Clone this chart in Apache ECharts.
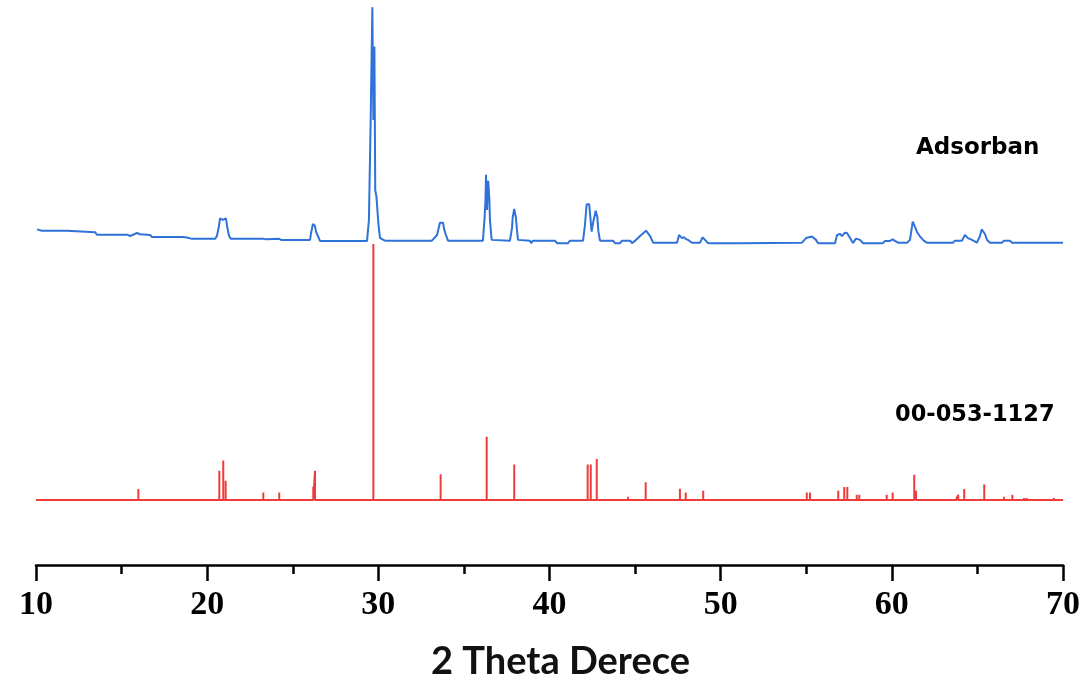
<!DOCTYPE html>
<html>
<head>
<meta charset="utf-8">
<script src="https://cdn.jsdelivr.net/npm/echarts@6/dist/echarts.min.js"></script>
<style>
html,body{margin:0;padding:0;background:#fff;}
#chart{width:1090px;height:684px;}
</style>
</head>
<body>
<div id="chart"></div>
<script>
// X axis tick labels (2θ, degrees)
var xTicks = [10, 20, 30, 40, 50, 60, 70];

// Measured pattern "Adsorban": [2θ, intensity (a.u.)]
var adsorbanTheta = [
  10.06, 10.35, 11.81, 11.87, 13.45, 13.56, 13.91, 13.97, 14.03, 15.37, 15.49, 15.78, 15.90, 16.08, 16.66, 16.78,
  18.30, 18.41, 18.59, 18.70, 18.82, 19.11, 20.46, 20.57, 20.69, 20.75, 20.92, 21.10, 21.16, 21.28, 21.39,
  23.26, 23.32, 23.44, 24.20, 24.26, 24.32, 26.01, 26.07, 26.18, 26.24, 26.30, 26.36, 26.47, 26.59,
  27.30, 27.36, 27.42, 28.47, 28.53, 28.59, 29.34, 29.40, 29.45, 29.55, 29.65, 29.71, 29.77, 29.82, 29.89, 29.96, 30.01, 30.10, 30.39,
  33.13, 33.43, 33.60, 33.78, 33.84, 33.95, 34.07,
  36.11, 36.20, 36.26, 36.29, 36.35, 36.42, 36.49, 36.52, 36.62,
  37.69, 37.81, 37.85, 37.94, 38.04, 38.10, 38.16,
  38.86, 38.92, 39.04, 40.32, 40.44, 41.08, 41.20, 41.96,
  42.07, 42.17, 42.32, 42.46, 42.56, 42.70, 42.79, 42.86, 42.95,
  43.71, 43.83, 44.12, 44.24, 44.71, 44.82, 45.00, 45.29, 45.64, 45.88, 46.05,
  47.45, 47.57, 47.74, 47.86, 47.97, 48.09, 48.32, 48.79, 48.95, 49.14, 49.26,
  51.13, 54.75, 54.99, 55.10, 55.33, 55.57, 55.69, 56.68,
  56.80, 56.98, 57.09, 57.26, 57.38, 57.56, 57.73, 57.91, 58.02, 58.14, 58.32,
  59.48, 59.60, 59.89, 60.05, 60.18, 60.36, 60.89,
  61.06, 61.15, 61.22, 61.35, 61.47, 61.65, 61.88, 62.05,
  63.57, 63.69, 64.10, 64.27, 64.45, 64.68, 64.97,
  65.15, 65.25, 65.35, 65.44, 65.56, 65.73, 66.43, 66.55, 66.90, 67.02, 70.00
];
var adsorbanIntensity = [
  5.7, 5.2, 5.2, 4.6, 4.6, 3.6, 3.6, 4.3, 3.6, 3.6, 3.1, 3.9, 4.3, 3.8, 3.5, 2.7,
  2.7, 2.1, 2.7, 2.1, 2.5, 2.0, 2.0, 3.1, 7.0, 10.0, 9.4, 10.0, 7.0, 3.1, 2.0,
  2.0, 2.4, 1.8, 2.0, 2.4, 1.6, 1.6, 4.3, 7.8, 8.3, 7.0, 4.7, 3.1, 1.2,
  1.2, 0.6, 1.2, 1.2, 1.6, 1.2, 1.2, 1.9, 9.4, 47.5, 92.5, 48.4, 77.1, 21.1, 18.4, 18.4, 7.4, 2.3, 1.3,
  1.3, 3.5, 8.3, 8.3, 5.9, 3.5, 1.3,
  1.3, 9.4, 17.2, 27.0, 13.3, 24.7, 17.2, 9.4, 1.6,
  1.3, 6.3, 10.4, 13.7, 10.2, 5.5, 1.6,
  1.3, 0.3, 1.3, 1.3, 0.3, 0.3, 1.3, 1.3,
  7.4, 15.5, 15.5, 4.8, 8.7, 13.0, 10.7, 4.7, 1.3,
  1.3, 0.3, 0.3, 1.3, 1.3, 0.3, 1.3, 3.1, 5.2, 3.1, 0.5,
  0.5, 3.5, 2.3, 2.7, 1.9, 1.6, 0.5, 0.5, 2.6, 1.2, 0.3,
  0.3, 0.5, 2.3, 2.9, 2.9, 1.6, 0.3, 0.3,
  3.5, 3.9, 3.1, 4.4, 4.3, 2.3, 0.4, 2.1, 2.6, 1.6, 0.3,
  0.3, 1.2, 1.2, 1.8, 1.2, 0.5, 0.5,
  1.6, 5.5, 8.7, 6.8, 4.7, 2.9, 1.2, 0.5,
  0.5, 1.3, 1.3, 3.5, 2.3, 1.6, 0.5,
  3.1, 5.7, 5.5, 3.9, 1.6, 0.5, 0.5, 1.3, 1.3, 0.5, 0.5
];

// Reference card 00-053-1127: stick positions (2θ) and relative intensities (%)
var refTheta = [
  15.98, 20.71, 20.94, 21.08, 23.28, 24.21, 26.20, 26.30, 29.71, 33.64, 36.33, 37.94,
  42.23, 42.41, 42.76, 44.59, 45.62, 47.62, 47.96, 48.98, 55.03, 55.22, 56.87, 57.22,
  57.40, 57.95, 58.10, 59.70, 60.05, 61.31, 61.41, 63.79, 63.88, 64.23, 65.40, 66.55,
  66.67, 67.04, 67.72, 67.88, 69.47
];
var refIntensity = [
  4.3, 11.4, 15.4, 7.5, 2.9, 2.9, 5.2, 11.4, 100, 10.0, 24.7, 13.9,
  13.9, 13.9, 16.0, 1.3, 6.9, 4.4, 2.9, 3.6, 2.9, 2.9, 3.6, 5.1,
  5.1, 2.0, 2.0, 2.0, 2.9, 9.9, 3.6, 1.3, 2.0, 4.3, 6.0, 1.3,
  0.5, 2.0, 0.8, 0.8, 0.8
];

var seriesNames = ['Adsorban', '00-053-1127'];
var axisTitle = '2 Theta Derece';

// vertical stacking offset of the measured pattern above the reference card
var ADS_OFFSET = 100;

var adsData = adsorbanTheta.map(function (t, i) { return [t, adsorbanIntensity[i] + ADS_OFFSET]; });
var refData = [[10, 0]];
refTheta.forEach(function (t, i) {
  refData.push([t, 0]);
  refData.push([t, refIntensity[i]]);
  refData.push([t, 0]);
});
refData.push([70, 0]);

var chart = echarts.init(document.getElementById('chart'), null, {renderer: 'canvas'});
chart.setOption({
  animation: false,
  backgroundColor: '#ffffff',
  grid: {left: 36, right: 27, top: 0, bottom: 119, containLabel: false, outerBoundsMode: 'none'},
  xAxis: {
    type: 'value',
    min: xTicks[0],
    max: xTicks[xTicks.length - 1],
    interval: 10,
    name: axisTitle,
    nameLocation: 'middle',
    nameGap: 78,
    nameTextStyle: {fontFamily: 'Lato', fontWeight: 'bold', fontSize: 38, color: '#111', padding: [0, 0, 0, 22]},
    axisLine: {show: true, onZero: false, lineStyle: {color: '#000', width: 2.5}},
    axisTick: {show: true, length: 16, lineStyle: {color: '#000', width: 2.5}},
    minorTick: {show: true, splitNumber: 2, length: 9, lineStyle: {color: '#000', width: 2.5}},
    splitLine: {show: false},
    minorSplitLine: {show: false},
    axisLabel: {
      margin: 23,
      fontFamily: 'Liberation Serif',
      fontWeight: 'bold',
      fontSize: 34,
      color: '#000',
      formatter: function (v) { return xTicks.indexOf(v) >= 0 ? String(v) : ''; }
    }
  },
  yAxis: {
    type: 'value',
    min: -25.4,
    max: 195.3,
    show: false,
    splitLine: {show: false}
  },
  series: [
    {
      name: seriesNames[0],
      type: 'line',
      data: adsData,
      showSymbol: false,
      symbol: 'none',
      lineStyle: {color: '#2E72DA', width: 2},
      z: 3
    },
    {
      name: seriesNames[1],
      type: 'line',
      data: refData,
      showSymbol: false,
      symbol: 'none',
      lineStyle: {color: '#EF3B3B', width: 2},
      z: 2
    }
  ],
  graphic: [
    {type: 'text', left: 916, top: 137, style: {text: seriesNames[0], font: 'bold 23px "DejaVu Sans"', fill: '#000'}},
    {type: 'text', left: 895, top: 404, style: {text: seriesNames[1], font: 'bold 22.5px "DejaVu Sans"', fill: '#000'}}
  ]
});
</script>
</body>
</html>
